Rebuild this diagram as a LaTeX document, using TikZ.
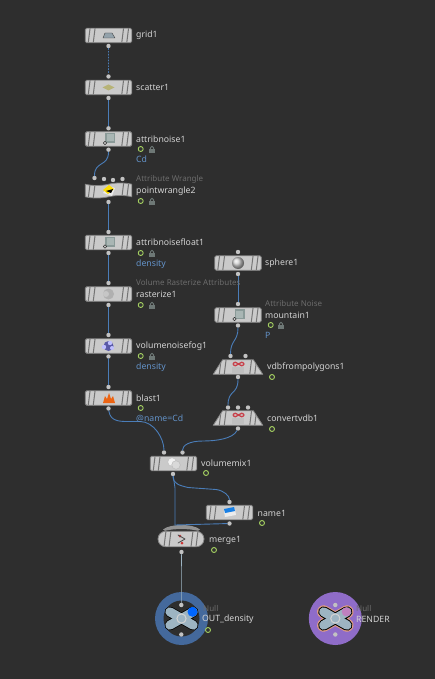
\documentclass[tikz,border=0pt]{standalone}
\usepackage{fontspec}
\setmainfont{Noto Sans}
\usetikzlibrary{shapes.geometric,shapes.symbols,shapes.misc}
\definecolor{bggray}{HTML}{2E2E2E}
\definecolor{bodygray}{HTML}{CACACA}
\definecolor{edgegray}{HTML}{858585}
\definecolor{stripegray}{HTML}{747474}
\definecolor{portgray}{HTML}{C2C2C2}
\definecolor{wireblue}{HTML}{4A7DB8}
\definecolor{labelgray}{HTML}{D2D2D2}
\definecolor{typegray}{HTML}{6C6C6C}
\definecolor{attrblue}{HTML}{6392C8}
\definecolor{flaggreen}{HTML}{A4D060}
\definecolor{lockgray}{HTML}{6E7876}
\definecolor{nullblue}{HTML}{44699C}
\definecolor{nullpurple}{HTML}{8F6CC8}
\definecolor{crossgray}{HTML}{9DB4C2}
\definecolor{noisegray}{HTML}{8A9A98}
\definecolor{noiselight}{HTML}{A9B6B4}
\definecolor{vdbred}{HTML}{C8404A}
\tikzset{
  stripes/.style={path picture={
    \draw[stripegray,line width=1] ([xshift=#1+3]path picture bounding box.south west) -- ++(2,-16);
    \draw[stripegray,line width=1] ([xshift=#1+8]path picture bounding box.south west) -- ++(2,-16);
    \draw[stripegray,line width=1] ([xshift=-#1-10]path picture bounding box.south east) -- ++(2,-16);
    \draw[stripegray,line width=1] ([xshift=-#1-5]path picture bounding box.south east) -- ++(2,-16);
  }},
  sopbox/.style={rectangle, rounded corners=1.5, draw=edgegray, line width=.8, fill=bodygray,
    minimum width=46.5, minimum height=14.5, inner sep=0, stripes=0},
  wranglebox/.style={tape, tape bend top=in and out, tape bend bottom=in and out, tape bend height=2.5,
    draw=edgegray, line width=.8, fill=bodygray, minimum width=46.5, minimum height=15, inner sep=0, stripes=0},
  vdbbox/.style={trapezium, trapezium left angle=73, trapezium right angle=73, trapezium stretches=true,
    draw=edgegray, line width=.8, fill=bodygray, minimum width=49.5, minimum height=14.5, inner sep=1, stripes=3},
  mergebox/.style={rounded rectangle, draw=edgegray, line width=.8, fill=bodygray,
    minimum width=46, minimum height=15.5, inner sep=0, stripes=3},
  portdot/.style={circle, fill=portgray, inner sep=0, minimum size=4.4},
  nodelabel/.style={anchor=west, inner sep=0, text=labelgray, font=\fontsize{8.7}{10}\selectfont},
  typelabel/.style={anchor=west, inner sep=0, text=typegray, font=\fontsize{8}{10}\selectfont},
  attrlabel/.style={anchor=west, inner sep=0, text=attrblue, font=\fontsize{8.7}{10}\selectfont},
  flagdot/.style={circle, draw=flaggreen, line width=.9, fill=black!80, inner sep=0, minimum size=5},
  wire/.style={draw=wireblue, line width=.9},
  lockmark/.pic={
    \fill[lockgray] (-2.8,-.8) rectangle (2.8,3.2);
    \draw[lockgray,line width=.9] (-1.6,-.8) -- (-1.6,-1.6) .. controls (-1.6,-3.8) and (1.6,-3.8) .. (1.6,-1.6) -- (1.6,-.8);
  },
  noisemark/.pic={
    \fill[noisegray] (-3.5,-6) rectangle (6.5,4);
    \fill[noiselight] (-2,-4.5) rectangle (5,2.5);
    \draw[gray!40!black,line width=.6,fill=bodygray] (-3.5,4) circle (1.7);
  },
  nullcross/.pic={
    \draw[crossgray,line width=9,line cap=round] (-11.7,-6.7) -- (11.7,6.7);
    \draw[crossgray,line width=9,line cap=round] (-11.7,6.7) -- (11.7,-6.7);
  }
}
\begin{document}
\begin{tikzpicture}[x=1pt, y=-1pt, line cap=round, line join=round]
  % Window
  \fill[bggray] (0,0) rectangle (435,679);
  \useasboundingbox (0,0) rectangle (435,679);

  % Left column
  \node[sopbox] (grid) at (108.5,35.5) {};
  \node[sopbox] (scatter) at (108.5,87.5) {};
  \node[sopbox] (attribnoise) at (108.5,139) {};
  \node[wranglebox] (pointwrangle) at (108.5,190.5) {};
  \node[sopbox] (attribnoisefloat) at (108.5,242.5) {};
  \node[sopbox] (rasterize) at (108.5,294) {};
  \node[sopbox] (volumenoisefog) at (108.5,346) {};
  \node[sopbox] (blast) at (108.5,398) {};

  % Right column
  \node[sopbox] (sphere) at (238,263) {};
  \node[sopbox] (mountain) at (238,315) {};
  \node[vdbbox] (vdbfrompolygons) at (238,367) {};
  \node[vdbbox] (convertvdb) at (238,418) {};

  % Bottom nodes
  \node[sopbox] (volumemix) at (173.5,463.5) {};
  \node[sopbox] (name) at (229.5,512.5) {};
  \fill[portgray!75!black] (163,529.5) .. controls (170,523.5) and (193,523.5) .. (200,529.5) -- (198,530.8) .. controls (190,528.5) and (173,528.5) .. (165,530.8) -- cycle;
  \node[mergebox] (merge) at (181,539) {};

  % Null discs
  \node[circle, fill=nullblue, inner sep=0, minimum size=53] (outdensity) at (181.5,618.5) {};
  \node[circle, fill=bggray, inner sep=0, minimum size=36] at (outdensity) {};
  \draw[black,line width=10.5,line cap=round] (169.8,611.8) -- (193.2,625.2) (169.8,625.2) -- (193.2,611.8);
  \pic at (181.5,618.5) {nullcross};
  \fill[blue!60!cyan] (192.5,611.8) circle (5);
  \draw[labelgray,line width=1] (outdensity) circle (4.6);
  \node[circle, fill=nullpurple, inner sep=0, minimum size=53] (render) at (335.3,618.5) {};
  \begin{scope}[shift={(335.3,618.5)}]
    \draw[red!25!brown!60!white,line width=13,line cap=round] (-11.7,-6.7) -- (11.7,6.7) (-11.7,6.7) -- (11.7,-6.7);
    \draw[black,line width=11,line cap=round] (-11.7,-6.7) -- (11.7,6.7) (-11.7,6.7) -- (11.7,-6.7);
    \pic {nullcross};
    \fill[violet!50!white] (11,-6.7) circle (4.6);
    \draw[labelgray,line width=1] (0,0) circle (4.6);
  \end{scope}

  % Icons
  \fill[gray!35!crossgray,draw=gray!50!black,line width=.4] (103,38) -- (105,33) -- (112,33) -- (115,38) -- cycle;
  \fill[yellow!35!gray] (102.5,87.5) -- (108.5,84.5) -- (114.5,87.5) -- (108.5,90.5) -- cycle;
  \pic at (108.5,139) {noisemark};
  \fill[white!85!gray] (103,193) -- (112,196) -- (115,188) -- (108,186) -- cycle;
  \fill[yellow!80!orange] (103,190) -- (109,185) -- (114,189) -- (108,194) -- cycle;
  \fill[black] (106,191) -- (113,189) -- (111,193) -- cycle;
  \pic at (108.5,242.5) {noisemark};
  \fill[gray!62] (108.5,294) circle (5.5);
  \fill[gray!45] (106,294) circle (3);
  \fill[blue!30!gray] (108.5,346) circle (5);
  \fill[white!75!blue] (104,347) circle (2.2) (110,343) circle (2.2) (112,348) circle (2);
  \fill[orange!75!red!85!gray] (103,403) -- (105,396) -- (107,399) -- (109,393) -- (111,399) -- (113,396) -- (115,403) -- cycle;
  \shade[ball color=gray!35] (238,263) circle (6);
  \pic at (238,315) {noisemark};
  \fill[gray!50] (232,367) rectangle (244,373);
  \draw[vdbred,line width=1.3] (233,364) .. controls (236,358) and (241,370) .. (244,364) .. controls (241,358) and (236,370) .. (233,364);
  \fill[gray!50] (232,418) rectangle (244,424);
  \draw[vdbred,line width=1.3] (233,415) .. controls (236,409) and (241,421) .. (244,415) .. controls (241,409) and (236,421) .. (233,415);
  \fill[white!90!gray,draw=gray!50,line width=.5] (172,462) circle (4.3);
  \fill[gray!30,draw=gray!55,line width=.5] (176,465) circle (4.3);
  \fill[white!85!gray] (224,511) -- (235,509) -- (236,515) -- (225,517) -- cycle;
  \fill[blue!50!cyan!80!gray] (224,509) -- (234,507) -- (235,511) -- (225,513) -- cycle;
  \fill[red!60!gray] (180,536) circle (1.5) (182,543) circle (1.5);
  \draw[gray!55!black,line width=.8] (178,535) -- (185,539) -- (178,543);

  % Ports
  \node[portdot] (gridout) at (108.5,46) {};
  \node[portdot] (scatterin) at (108.5,76.5) {};
  \node[portdot] (scatterout) at (108.5,98) {};
  \node[portdot] (attribnoisein) at (108.5,128.3) {};
  \node[portdot] (attribnoiseout) at (108.5,149.7) {};
  \node[portdot] (wranglein) at (94.5,178) {};
  \node[portdot] (wrangleinb) at (104,179) {};
  \node[portdot] (wrangleinc) at (113,180) {};
  \node[portdot] (wrangleind) at (122.5,179) {};
  \node[portdot] (wrangleout) at (108.5,202) {};
  \node[portdot] (floatin) at (108.5,232) {};
  \node[portdot] (floatout) at (108.5,253) {};
  \node[portdot] (rasterizein) at (108.5,283) {};
  \node[portdot] (rasterizeout) at (108.5,305) {};
  \node[portdot] (fogin) at (108.5,335) {};
  \node[portdot] (fogout) at (108.5,356.5) {};
  \node[portdot] (blastin) at (108.5,387) {};
  \node[portdot] (blastout) at (108.5,408.5) {};
  \node[portdot] (spherein) at (238,252) {};
  \node[portdot] (sphereout) at (238,274) {};
  \node[portdot] (mountainin) at (238,304) {};
  \node[portdot] (mountainout) at (238,325.5) {};
  \node[portdot] (vdbin) at (230.5,356) {};
  \node[portdot] (vdbinb) at (245.5,356) {};
  \node[portdot] (vdbout) at (238,377) {};
  \node[portdot] (convertin) at (228,407.5) {};
  \node[portdot] (convertinb) at (238,407.5) {};
  \node[portdot] (convertinc) at (248,407.5) {};
  \node[portdot] (convertout) at (238,428.5) {};
  \node[portdot] (mixin) at (164,452.5) {};
  \node[portdot] (mixinb) at (182.5,452.5) {};
  \node[portdot] (mixout) at (173,474) {};
  \node[portdot] (namein) at (229.5,502) {};
  \node[portdot] (nameout) at (229.5,523.5) {};
  \node[portdot] (mergeout) at (181.5,552) {};
  \node[portdot] (outin) at (181.3,605) {};
  \node[portdot] (outout) at (181.3,634.5) {};
  \node[portdot] (renderin) at (335.3,605) {};
  \node[portdot] (renderout) at (335.3,634.5) {};
  \coordinate (mergetop) at (175,525);

  % Wires
  \draw[wire, dotted, line width=1] (gridout) -- (scatterin);
  \draw[wire] (scatterout) -- (attribnoisein);
  \draw[wire] (attribnoiseout) .. controls +(0,17) and +(0,-17) .. (wranglein);
  \draw[wire] (wrangleout) -- (floatin);
  \draw[wire] (floatout) -- (rasterizein);
  \draw[wire] (rasterizeout) -- (fogin);
  \draw[wire] (fogout) -- (blastin);
  \draw[wire] (blastout) .. controls +(2,14) and +(-12,0) .. (133,421.5) -- (140,421.5) .. controls +(14,0) and +(0,-14) .. (mixin);
  \draw[wire] (sphereout) -- (mountainin);
  \draw[wire] (mountainout) .. controls +(0,16) and +(0,-16) .. (vdbin);
  \draw[wire] (vdbout) .. controls +(0,18) and +(0,-18) .. (convertin);
  \draw[wire] (convertout) .. controls +(-5,10) and +(14,0) .. (203,441) .. controls +(-14,0) and +(0,-7) .. (mixinb);
  \draw[wire] (mixout) .. controls +(0,10) and +(-8,-2) .. (188,487.5) -- (216,489.5) .. controls +(8,1) and +(0,-6) .. (namein);
  \draw[wire] (mixout) -- (175,488) -- (mergetop);
  \draw[wire] (nameout) -- (mergetop);
  \draw[wire, draw=crossgray, line width=.6] (mergeout) -- (outin);

  % Names
  \node[nodelabel] (gridlabel) at (136,35.5) {grid1};
  \node[nodelabel] (scatterlabel) at (136,87) {scatter1};
  \node[nodelabel] (attribnoiselabel) at (136,139) {attribnoise1};
  \node[typelabel] (wrangletype) at (136,179) {Attribute Wrangle};
  \node[nodelabel] (wranglelabel) at (136,191) {pointwrangle2};
  \node[nodelabel] (floatlabel) at (136,242) {attribnoisefloat1};
  \node[typelabel] (rasterizetype) at (136,282.5) {Volume Rasterize Attributes};
  \node[nodelabel] (rasterizelabel) at (136,294) {rasterize1};
  \node[nodelabel] (foglabel) at (136,346) {volumenoisefog1};
  \node[nodelabel] (blastlabel) at (136,398) {blast1};
  \node[nodelabel] (spherelabel) at (265,263) {sphere1};
  \node[typelabel] (mountaintype) at (265,303.5) {Attribute Noise};
  \node[nodelabel] (mountainlabel) at (265,315) {mountain1};
  \node[nodelabel] (vdblabel) at (267,367) {vdbfrompolygons1};
  \node[nodelabel] (convertlabel) at (267,418) {convertvdb1};
  \node[nodelabel] (mixlabel) at (201,463) {volumemix1};
  \node[nodelabel] (namelabel) at (257.5,513) {name1};
  \node[nodelabel] (mergelabel) at (209,540) {merge1};
  \node[typelabel] (outtype) at (203,608) {Null};
  \node[nodelabel] (outlabel) at (202,619) {OUT\_density};
  \node[typelabel] (rendertype) at (356,608) {Null};
  \node[nodelabel] (renderlabel) at (356,619) {RENDER};

  % Attributes
  \node[attrlabel] (attribnoiseattr) at (136,159.5) {Cd};
  \node[attrlabel] (floatattr) at (136,264) {density};
  \node[attrlabel] (fogattr) at (136,367) {density};
  \node[attrlabel] (blastattr) at (136,419) {@name=Cd};
  \node[attrlabel] (mountainattr) at (265,335) {P};

  % Flags and locks
  \node[flagdot] (attribnoiseflag) at (140.7,149) {};
  \node[flagdot] (wrangleflag) at (140.7,201) {};
  \node[flagdot] (floatflag) at (140.7,253) {};
  \node[flagdot] (rasterizeflag) at (140.7,305) {};
  \node[flagdot] (fogflag) at (140.7,356) {};
  \node[flagdot] (blastflag) at (140.7,408) {};
  \node[flagdot] (mountainflag) at (270.7,325) {};
  \node[flagdot] (vdbflag) at (272,377) {};
  \node[flagdot] (convertflag) at (272,429) {};
  \node[flagdot] (mixflag) at (206,473) {};
  \node[flagdot] (nameflag) at (262,523) {};
  \node[flagdot] (mergeflag) at (214,550) {};
  \node[flagdot] (outflag) at (208,630) {};
  \pic at (152,149.5) {lockmark};
  \pic at (152,201.5) {lockmark};
  \pic at (152,253.5) {lockmark};
  \pic at (152,305.5) {lockmark};
  \pic at (152,356.5) {lockmark};
  \pic at (281,325.5) {lockmark};
\end{tikzpicture}
\end{document}
